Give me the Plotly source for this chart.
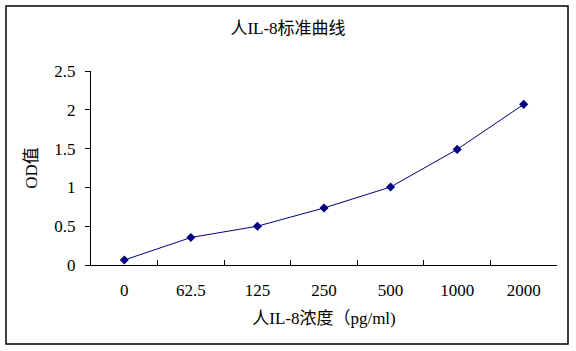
import plotly.graph_objects as go

categories = ["0", "62.5", "125", "250", "500", "1000", "2000"]
od_values = [0.064, 0.354, 0.50, 0.735, 1.005, 1.49, 2.07]

L, R, T, B = 91, 19, 71, 86
W, H = 576, 351
pw, ph = W - L - R, H - T - B

font_fam = "Liberation Serif, Noto Sans CJK SC, serif"

fig = go.Figure()
fig.add_trace(go.Scatter(
    x=categories, y=od_values, mode="lines+markers",
    line=dict(color="#000080", width=1),
    marker=dict(symbol="diamond", size=7, color="#000080"),
    showlegend=False,
))

fig.update_layout(
    width=W, height=H,
    margin=dict(l=L, r=R, t=T, b=B),
    paper_bgcolor="white", plot_bgcolor="white",
    font=dict(family=font_fam, size=17, color="black"),
    title=dict(text="人IL-8标准曲线", x=(288 - L) / pw, xref="paper",
               y=1 - 28 / H, yref="container", xanchor="center", yanchor="middle",
               font=dict(size=17, family=font_fam)),
    xaxis=dict(
        type="category", range=[-0.5, 6.5],
        showline=True, linecolor="black", linewidth=1,
        ticks="inside", tickson="boundaries", ticklen=5, tickcolor="black",
        showgrid=False, zeroline=False,
        ticklabelstandoff=10,
        title=dict(text="人IL-8浓度（pg/ml)", standoff=12, font=dict(size=17)),
    ),
    yaxis=dict(
        range=[0, 2.5], dtick=0.5,
        showline=True, linecolor="black", linewidth=1,
        ticks="outside", ticklen=5, tickcolor="black",
        showgrid=False, zeroline=False,
        ticklabelstandoff=6,
        title=dict(text="OD值", standoff=12, font=dict(size=17)),
    ),
    shapes=[dict(
        type="rect", xref="paper", yref="paper",
        x0=(6 - L) / pw, x1=(568 - L) / pw,
        y0=-(344 - (H - B)) / ph, y1=((H - B) - 6) / ph,
        line=dict(color="black", width=1.5),
    )],
)

fig.write_html("out.html")
